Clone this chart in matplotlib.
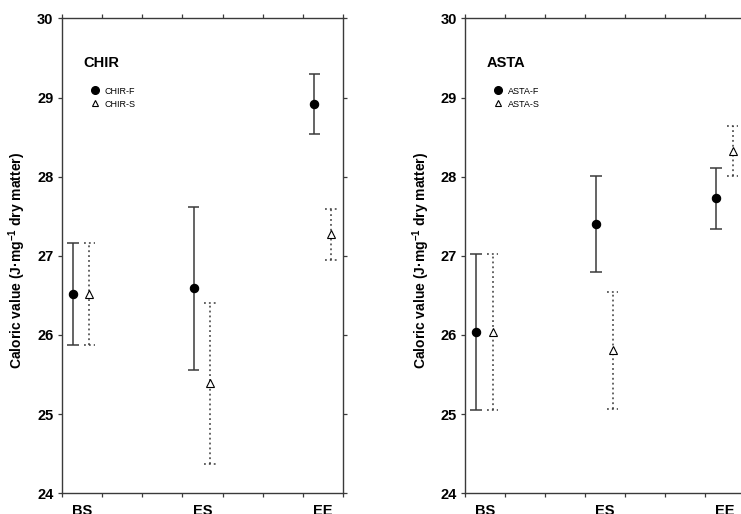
import matplotlib

matplotlib.use("Agg")

import matplotlib.pyplot as plt
from matplotlib.lines import Line2D
from matplotlib.ticker import FixedLocator, NullFormatter

plt.rcParams["font.family"] = ["Liberation Sans", "DejaVu Sans"]
plt.rcParams["mathtext.fontset"] = "custom"
plt.rcParams["mathtext.rm"] = "Liberation Sans"
plt.rcParams["mathtext.bf"] = "Liberation Sans:bold"

STAGES = ["BS", "ES", "EE"]
STAGE_POS = [0.5, 3.5, 6.5]

# mean and standard deviation of caloric value per stage
CHIR_F_MEAN = [26.52, 26.59, 28.92]
CHIR_F_SD = [0.645, 1.03, 0.38]
CHIR_S_MEAN = [26.52, 25.39, 27.27]
CHIR_S_SD = [0.645, 1.02, 0.32]

ASTA_F_MEAN = [26.035, 27.405, 27.725]
ASTA_F_SD = [0.985, 0.605, 0.385]
ASTA_S_MEAN = [26.035, 25.805, 28.325]
ASTA_S_SD = [0.985, 0.735, 0.315]

LINE = "#3a3a3a"
F_OFFSET, S_OFFSET = -0.22, 0.19
CAP = 0.145
DOTS = (0, (1.2, 2.0))


def bars(ax, xs, mean, sd, ls, marker, mfc):
    lo = [m - s for m, s in zip(mean, sd)]
    hi = [m + s for m, s in zip(mean, sd)]
    ax.vlines(xs, lo, hi, colors=LINE, linewidth=1.1, linestyles=ls, zorder=2)
    for edge in (lo, hi):
        ax.hlines(edge, [x - CAP for x in xs], [x + CAP for x in xs],
                  colors=LINE, linewidth=1.1, linestyles=ls, zorder=2)
    ax.plot(xs, mean, linestyle="none", marker=marker, markersize=6 if marker == "o" else 5.5,
            markerfacecolor=mfc, markeredgecolor="black", markeredgewidth=0.8, zorder=3)


def panel(ax, name, f_mean, f_sd, s_mean, s_sd):
    xf = [p + F_OFFSET for p in STAGE_POS]
    xs = [p + S_OFFSET for p in STAGE_POS]
    bars(ax, xf, f_mean, f_sd, "solid", "o", "black")
    bars(ax, xs, s_mean, s_sd, DOTS, "^", "white")

    ax.set_xlim(0, 7)
    ax.set_ylim(24, 30)
    ax.set_yticks(range(24, 31))
    ax.xaxis.set_major_locator(FixedLocator(range(0, 8)))
    ax.xaxis.set_major_formatter(NullFormatter())
    ax.xaxis.set_minor_locator(FixedLocator(STAGE_POS))
    ax.set_xticklabels(STAGES, minor=True, fontsize=10.5, fontweight="bold")
    ax.tick_params(which="major", direction="out", length=3, width=0.9, color=LINE,
                   top=True, right=True, labelsize=10.5, pad=3)
    ax.tick_params(axis="x", which="minor", length=0, pad=8)
    for lab in ax.get_yticklabels():
        lab.set_fontweight("bold")
    for sp in ax.spines.values():
        sp.set_color(LINE)
        sp.set_linewidth(1.0)

    ax.set_ylabel("Caloric value (J\u00b7mg$^{\\mathbf{-1}}$ dry matter)",
                  fontsize=10, fontweight="bold", labelpad=3)
    ax.yaxis.set_label_coords(-0.118, 0.49)

    ax.text(0.076, 0.906, name, transform=ax.transAxes, fontsize=10.5,
            fontweight="bold", va="center", ha="left")
    handles = [
        Line2D([], [], linestyle="none", marker="o", markersize=5.5,
               markerfacecolor="black", markeredgecolor="black"),
        Line2D([], [], linestyle="none", marker="^", markersize=4.5,
               markerfacecolor="white", markeredgecolor="black", markeredgewidth=0.8),
    ]
    ax.legend(handles, [f"{name}-F", f"{name}-S"], loc="upper left",
              bbox_to_anchor=(0.088, 0.864), frameon=False, fontsize=6.5,
              handlelength=1.0, handletextpad=0.6, labelspacing=0.45,
              borderaxespad=0.0)


fig = plt.figure(figsize=(7.41, 5.14), dpi=100)
ax1 = fig.add_axes([0.0833, 0.0403, 0.380, 0.924])
ax2 = fig.add_axes([0.6275, 0.0403, 0.378, 0.924])

panel(ax1, "CHIR", CHIR_F_MEAN, CHIR_F_SD, CHIR_S_MEAN, CHIR_S_SD)
panel(ax2, "ASTA", ASTA_F_MEAN, ASTA_F_SD, ASTA_S_MEAN, ASTA_S_SD)

fig.savefig("out.png", dpi=100, facecolor="white")
